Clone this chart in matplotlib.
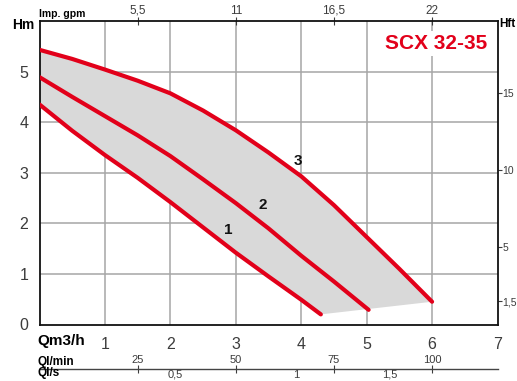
import matplotlib
matplotlib.use("Agg")
import matplotlib.pyplot as plt
from matplotlib import font_manager

# ---------------- data ----------------
c3_x = [0, 0.5, 1, 1.5, 2, 2.5, 3, 3.5, 4, 4.5, 5, 5.5, 6]
c3_y = [5.43, 5.25, 5.04, 4.82, 4.57, 4.23, 3.84, 3.40, 2.93, 2.36, 1.73, 1.10, 0.45]
c2_x = [0, 0.5, 1, 1.5, 2, 2.5, 3, 3.5, 4, 4.5, 5.03]
c2_y = [4.89, 4.50, 4.12, 3.74, 3.33, 2.87, 2.40, 1.90, 1.36, 0.85, 0.29]
c1_x = [0, 0.5, 1, 1.5, 2, 2.5, 3, 3.5, 4, 4.3]
c1_y = [4.35, 3.83, 3.35, 2.90, 2.42, 1.92, 1.42, 0.95, 0.49, 0.20]

curve_labels = ["1", "2", "3"]
curve_label_x = [2.88, 3.41, 3.95]
curve_label_y = [1.86, 2.36, 3.24]

x_ticks = [1, 2, 3, 4, 5, 6, 7]
y_ticks = [0, 1, 2, 3, 4, 5]
grid_x = [1, 2, 3, 4, 5, 6]
grid_y = [1, 2, 3, 4, 5]
gpm_ticks = [5.5, 11, 16.5, 22]
gpm_labels = ["5,5", "11", "16,5", "22"]
ft_ticks = [1.5, 5, 10, 15]
ft_labels = ["1,5", "5", "10", "15"]
lpm_ticks = [25, 50, 75, 100]
lpm_labels = ["25", "50", "75", "100"]
ls_pos = [2.08, 3.93, 5.35]          # where the l/s labels sit (m3/h)
ls_labels = ["0,5", "1", "1,5"]

title = "SCX 32-35"

# ---------------- style ----------------
avail = {f.name for f in font_manager.fontManager.ttflist}
narrow = "Liberation Sans Narrow" if "Liberation Sans Narrow" in avail else "Liberation Sans"
plt.rcParams["font.family"] = [narrow, "DejaVu Sans"]

RED = "#e2001a"
GRID = "#a6a6a6"
TXT = "#3c3c3c"

W, H = 517, 381
fig = plt.figure(figsize=(W / 100, H / 100), dpi=100)
L, R, T, B = 39.5, 497.5, 21, 324.5
ax = fig.add_axes([L / W, 1 - B / H, (R - L) / W, (B - T) / H])
ax.set_xlim(0, 7)
ax.set_ylim(0, 6)

for gx in grid_x:
    ax.axvline(gx, color=GRID, lw=1.1, zorder=0)
for gy in grid_y:
    ax.axhline(gy, color=GRID, lw=1.1, zorder=0)

ax.fill(c3_x + c1_x[::-1], c3_y + c1_y[::-1], color="#d9d9d9", lw=0, zorder=1)
for xs, ys in [(c1_x, c1_y), (c2_x, c2_y), (c3_x, c3_y)]:
    ax.plot(xs, ys, color=RED, lw=3, solid_capstyle="round", solid_joinstyle="round", zorder=3)
for t, x, y in zip(curve_labels, curve_label_x, curve_label_y):
    ax.text(x, y, t, fontsize=11, fontweight="bold", ha="center", va="center", color="#111", zorder=4)

ax.set_xticks(x_ticks)
ax.set_yticks(y_ticks)
ax.tick_params(which="both", length=0)
ax.tick_params(axis="x", labelsize=11.5, pad=9, colors=TXT)
ax.tick_params(axis="y", labelsize=11.5, pad=8, colors=TXT)
for s in ax.spines.values():
    s.set_linewidth(1.3)
    s.set_color("#111")

ax.text(0.866, 0.926, title, transform=ax.transAxes, fontsize=15, fontweight="bold",
        color=RED, ha="center", va="center",
        bbox=dict(facecolor="white", edgecolor="none", pad=2), zorder=5)

# top: Imp. gpm
k_gpm = 0.272765
top = ax.secondary_xaxis("top", functions=(lambda q: q / k_gpm, lambda g: g * k_gpm))
top.set_xticks(gpm_ticks)
top.set_xticklabels(gpm_labels)
top.tick_params(direction="inout", length=6, width=0.8, labelsize=8.5, pad=0, colors=TXT)
top.spines["top"].set_visible(False)

# right: Hft
k_ft = 0.3048
right = ax.secondary_yaxis("right", functions=(lambda m: m / k_ft, lambda f: f * k_ft))
right.set_yticks(ft_ticks)
right.set_yticklabels(ft_labels)
right.tick_params(direction="out", length=3, width=0.8, labelsize=7.5, pad=0.5, colors=TXT)
right.spines["right"].set_visible(False)

# bottom extra scales
loc = (B - 369) / (B - T)
lpm = ax.secondary_xaxis(loc, functions=(lambda q: q * 1000 / 60, lambda l: l * 60 / 1000))
lpm.set_alignment("top")
lpm.set_xticks(lpm_ticks)
lpm.set_xticklabels(lpm_labels)
lpm.tick_params(direction="inout", length=6, width=0.8, labelsize=8, pad=0, colors=TXT)
lpm.spines["top"].set_color("#444")
lpm.spines["top"].set_linewidth(1.0)

ls = ax.secondary_xaxis(loc)
ls.set_xticks(ls_pos)
ls.set_xticklabels(ls_labels)
ls.tick_params(length=0, labelsize=8, pad=0.5, colors=TXT)
ls.spines["bottom"].set_visible(False)

# axis names
def ftext(x, y, s, **kw):
    fig.text(x / W, 1 - y / H, s, **kw)

ftext(12, 25, "Hm", fontsize=10, fontweight="bold", va="center", ha="left")
ftext(499, 24, "Hft", fontsize=8.5, fontweight="bold", va="center", ha="left")
ftext(39, 14, "Imp. gpm", fontsize=7.5, fontweight="bold", va="center", ha="left")
ftext(37, 341, "Qm3/h", fontsize=11, fontweight="bold", va="center", ha="left")
ftext(37, 362.5, "Ql/min", fontsize=8.5, fontweight="bold", va="center", ha="left")
ftext(37, 373, "Ql/s", fontsize=8.5, fontweight="bold", va="center", ha="left")

fig.savefig("out.png", dpi=100)
